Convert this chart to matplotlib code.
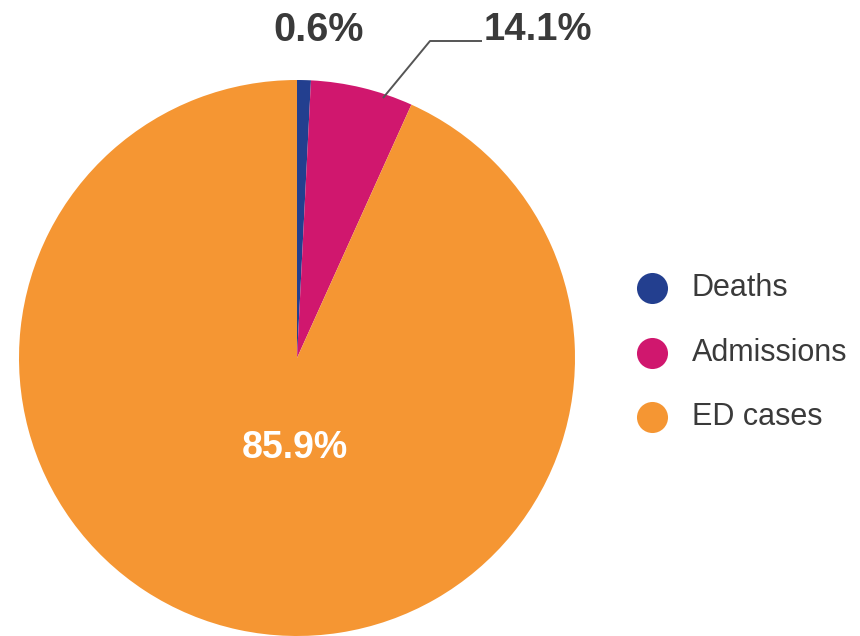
import matplotlib
matplotlib.use("Agg")
import matplotlib.pyplot as plt
import numpy as np

categories = ["Deaths", "Admissions", "ED cases"]
# slice sizes as drawn in the picture
values = [0.8, 5.95, 93.25]
# label texts printed on the chart
value_labels = ["0.6%", "14.1%", "85.9%"]
colors = ["#233F8F", "#D0176E", "#F59633"]

W, H = 860, 636
fig = plt.figure(figsize=(W / 100, H / 100), dpi=100)
ax = fig.add_axes([0, 0, 1, 1])

cx, cy, R = 297, H - 358, 278
ax.pie(values, colors=colors, center=(cx, cy), radius=R, startangle=90,
       counterclock=False, wedgeprops=dict(linewidth=0))
ax.set_xlim(0, W)
ax.set_ylim(0, H)
ax.set_aspect("equal")
ax.axis("off")

font = "Liberation Sans"
txt_col = "#3a3a3a"

# 0.6% label
ax.text(318.5, H - 30, value_labels[0], ha="center", va="center",
        fontsize=28.5, fontweight="bold", color=txt_col, family=font)
# 14.1% label with leader
ax.plot([383, 430, 482], [H - 98, H - 41, H - 41], color="#555555", lw=1.4,
        solid_capstyle="butt")
ax.text(484, H - 30, value_labels[1], ha="left", va="center",
        fontsize=27.5, fontweight="bold", color=txt_col, family=font)
# 85.9% inside
ax.text(295, H - 448, value_labels[2], ha="center", va="center",
        fontsize=27, fontweight="bold", color="white", family=font)

# legend
leg_y = [288, 353, 417]
for cat, col, y in zip(categories, colors, leg_y):
    ax.scatter([652], [H - y], s=31 ** 2 * 0.52, color=col, linewidths=0, zorder=3)
    ax.text(692, H - y, cat, ha="left", va="center", fontsize=22,
            color=txt_col, family=font)

fig.savefig("out.png", dpi=100)
